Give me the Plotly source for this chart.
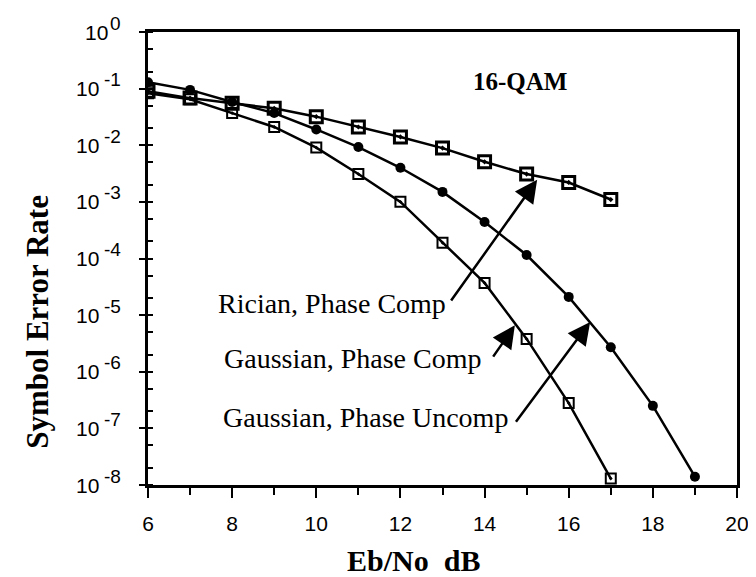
import math
import plotly.graph_objects as go

ebno = [6, 7, 8, 9, 10, 11, 12, 13, 14, 15, 16, 17, 18, 19]
rician_x = [6, 7, 8, 9, 10, 11, 12, 13, 14, 15, 16, 17]
rician_comp = [0.09, 0.068, 0.055, 0.045, 0.032, 0.021, 0.014, 0.0089, 0.0051, 0.0031, 0.0022, 0.0011]
gauss_comp = [0.13, 0.095, 0.058, 0.037, 0.019, 0.0093, 0.0040, 0.0015, 4.4e-4, 1.15e-4, 2.1e-5, 2.7e-6, 2.5e-7, 1.4e-8]
gauss_x = [6, 7, 8, 9, 10, 11, 12, 13, 14, 15, 16, 17]
gauss_uncomp = [0.083, 0.065, 0.037, 0.021, 0.0091, 0.0031, 0.001, 1.9e-4, 3.7e-5, 3.8e-6, 2.8e-7, 1.3e-8]

ytick_vals = [1, 1e-1, 1e-2, 1e-3, 1e-4, 1e-5, 1e-6, 1e-7, 1e-8]
ytick_exp = ["0", "-1", "-2", "-3", "-4", "-5", "-6", "-7", "-8"]
xtick_vals = [6, 8, 10, 12, 14, 16, 18, 20]

serif = "Liberation Serif, Times New Roman, serif"
sans = "Liberation Sans, Arial, sans-serif"

fig = go.Figure()
fig.add_trace(go.Scatter(x=rician_x, y=rician_comp, mode="lines+markers",
                         line=dict(color="black", width=2.5),
                         marker=dict(symbol="square-open-dot", size=12, color="black",
                                     line=dict(color="black", width=3)),
                         name="Rician, Phase Comp"))
fig.add_trace(go.Scatter(x=ebno, y=gauss_comp, mode="lines+markers",
                         line=dict(color="black", width=2.5),
                         marker=dict(symbol="circle", size=10, color="black"),
                         name="Gaussian, Phase Comp"))
fig.add_trace(go.Scatter(x=gauss_x, y=gauss_uncomp, mode="lines+markers",
                         line=dict(color="black", width=2.5),
                         marker=dict(symbol="square-open-dot", size=10, color="black",
                                     line=dict(color="black", width=2)),
                         name="Gaussian, Phase Uncomp"))

# y tick labels as "10" with a full-size raised exponent
tick_font = dict(family=sans, size=21, color="black")
exp_font = dict(family=sans, size=19, color="black")
for val, e in zip(ytick_vals, ytick_exp):
    ylog = math.log10(val)
    base_right = -0.0645 if e == "0" else -0.0798
    fig.add_annotation(x=base_right, y=ylog, xref="paper", yref="y", text="10",
                       showarrow=False, xanchor="right", yanchor="middle", font=tick_font)
    fig.add_annotation(x=-0.0424, y=ylog, xref="paper", yref="y", text=e, yshift=9,
                       showarrow=False, xanchor="right", yanchor="middle", font=exp_font)

txt_font = dict(family=serif, size=28, color="black")

for label, x, y in [("Rician, Phase Comp", 13.13, -4.79),
                    ("Gaussian, Phase Comp", 13.96, -5.76),
                    ("Gaussian, Phase Uncomp", 14.6, -6.80)]:
    fig.add_annotation(x=x, y=y, xref="x", yref="y", text=label, showarrow=False,
                       xanchor="right", yanchor="middle", font=txt_font)

for tip, tail in [((15.25, -2.61), (13.18, -4.77)),
                  ((14.72, -5.18), (14.18, -5.76)),
                  ((16.51, -5.12), (14.72, -6.91))]:
    fig.add_annotation(x=tip[0], y=tip[1], ax=tail[0], ay=tail[1], xref="x", yref="y",
                       axref="x", ayref="y", text="", showarrow=True, arrowhead=2,
                       arrowsize=1.8, arrowwidth=2.5, arrowcolor="black")

fig.add_annotation(x=14.84, y=-0.866, xref="x", yref="y", text="<b>16-QAM</b>", showarrow=False,
                   font=dict(family=serif, size=25, color="black"))

# axis titles
fig.add_annotation(x=-0.187, y=0.36, xref="paper", yref="paper", text="<b>Symbol Error Rate</b>",
                   textangle=-90, showarrow=False, xanchor="center", yanchor="middle",
                   font=dict(family=serif, size=31, color="black"))
fig.add_annotation(x=0.45, y=-0.166, xref="paper", yref="paper", text="<b>Eb/No  dB</b>",
                   showarrow=False, xanchor="center", yanchor="middle",
                   font=dict(family=serif, size=30, color="black"))

fig.update_layout(
    width=748, height=569,
    paper_bgcolor="white", plot_bgcolor="white",
    margin=dict(l=140, r=19, t=24, b=92, autoexpand=False),
    showlegend=False,
    xaxis=dict(range=[6, 20], tickvals=xtick_vals, ticks="outside", ticklen=10, tickwidth=2,
               tickcolor="black", showline=True, linecolor="black", linewidth=3, mirror=True,
               showgrid=False, zeroline=False, ticklabelstandoff=8,
               minor=dict(dtick=1, ticks="outside", ticklen=7, tickwidth=2, tickcolor="black"),
               tickfont=dict(family=sans, size=21, color="black")),
    yaxis=dict(type="log", range=[-8, 0], tickvals=ytick_vals, showticklabels=False,
               ticks="outside", ticklen=6, tickwidth=2, tickcolor="black",
               showline=True, linecolor="black", linewidth=3, mirror=True,
               showgrid=False, zeroline=False,
               minor=dict(ticks="inside", ticklen=5, tickwidth=1.5, tickcolor="black")),
)

fig.write_html("out.html")
